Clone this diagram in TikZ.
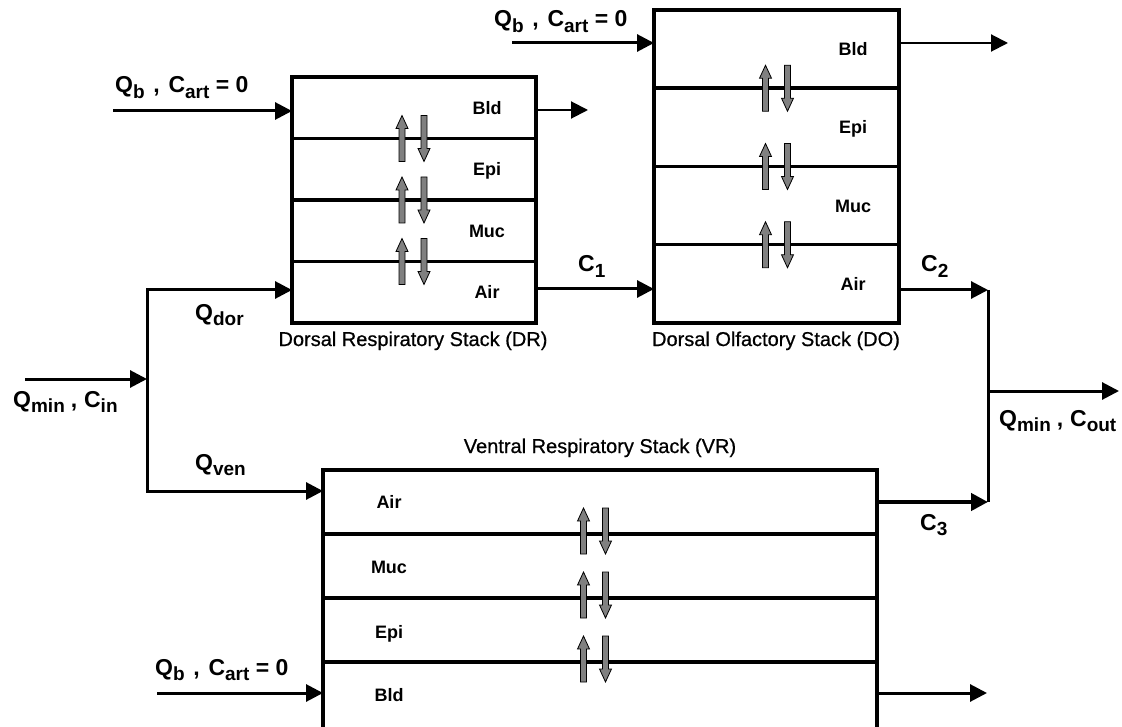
\documentclass[tikz,border=0pt]{standalone}
\usepackage{fontspec}
\setmainfont{Liberation Sans}
\newfontfamily\capfont[FakeBold=0.7]{Liberation Sans}
\usetikzlibrary{arrows.meta}
\newcommand\sbs[1]{\raisebox{-0.24em}{\fontsize{19}{20}\selectfont #1}}
\newcommand\cm{\hspace{0.38em},\hspace{0.38em}}
\newcommand\cmn{\hspace{0.26em},\hspace{0.3em}}
\tikzset{
  stacklayer/.style={draw, rectangle, line width=3.5pt, inner sep=0pt, outer sep=0pt},
  lbl/.style={font=\bfseries\fontsize{18}{20}\selectfont, inner sep=0pt, anchor=base},
  flow/.style={font=\bfseries\fontsize{23}{26}\selectfont, inner sep=0pt, anchor=base west},
  stackcap/.style={font=\capfont\fontsize{20}{24}\selectfont, inner sep=0pt, anchor=base},
  arrowtip/.style={-{Triangle[length=17pt,width=17pt]}},
  conn/.style={line width=3pt, arrowtip},
  thinconn/.style={line width=2pt, arrowtip},
  medconn/.style={line width=3pt, arrowtip},
  thickconn/.style={line width=4.5pt, arrowtip},
  swaparrows/.pic={
    \filldraw[fill=black!50, draw=black, line width=0.8pt]
      (-14,23) -- (-14,-10) -- (-17,-10) -- (-11,-23) -- (-5,-10) -- (-8,-10) -- (-8,23) -- cycle;
    \filldraw[fill=black!50, draw=black, line width=0.8pt]
      (8,-23) -- (8,10) -- (5,10) -- (11,23) -- (17,10) -- (14,10) -- (14,-23) -- cycle;
  }
}
\begin{document}
\begin{tikzpicture}[x=1pt,y=-1pt]
\useasboundingbox (0,0) rectangle (1122,727);
% Dorsal respiratory stack
\node[stacklayer, minimum width=244pt, minimum height=61.5pt] (drbld) at (414,107.75) {};
\node[stacklayer, minimum width=244pt, minimum height=61.5pt] (drepi) at (414,169.25) {};
\node[stacklayer, minimum width=244pt, minimum height=61.5pt] (drmuc) at (414,230.75) {};
\node[stacklayer, minimum width=244pt, minimum height=61.5pt] (drair) at (414,292.25) {};
\node[lbl] (drbldt) at (487,114.25) {Bld};
\node[lbl] (drepit) at (487,175.75) {Epi};
\node[lbl] (drmuct) at (487,237.25) {Muc};
\node[lbl] (drairt) at (487,298.75) {Air};
\node[stackcap] (drcap) at (413,346) {Dorsal Respiratory Stack (DR)};
% Dorsal olfactory stack
\node[stacklayer, minimum width=245pt, minimum height=78.25pt] (dobld) at (776.5,49.125) {};
\node[stacklayer, minimum width=245pt, minimum height=78.25pt] (doepi) at (776.5,127.375) {};
\node[stacklayer, minimum width=245pt, minimum height=78.25pt] (domuc) at (776.5,205.625) {};
\node[stacklayer, minimum width=245pt, minimum height=78.25pt] (doair) at (776.5,283.875) {};
\node[lbl] (dobldt) at (853,55.6) {Bld};
\node[lbl] (doepit) at (853,133.9) {Epi};
\node[lbl] (domuct) at (853,212.1) {Muc};
\node[lbl] (doairt) at (853,290.4) {Air};
\node[stackcap] (docap) at (776,346) {Dorsal Olfactory Stack (DO)};
% Ventral respiratory stack
\node[stacklayer, minimum width=554pt, minimum height=64pt] (vrair) at (600,502) {};
\node[stacklayer, minimum width=554pt, minimum height=64pt] (vrmuc) at (600,566) {};
\node[stacklayer, minimum width=554pt, minimum height=64pt] (vrepi) at (600,630) {};
\node[stacklayer, minimum width=554pt, minimum height=80pt] (vrbld) at (600,702) {};
\node[lbl] (vrairt) at (389,508.5) {Air};
\node[lbl] (vrmuct) at (389,573.5) {Muc};
\node[lbl] (vrepit) at (389,638.5) {Epi};
\node[lbl] (vrbldt) at (389,701) {Bld};
\node[stackcap] (vrcap) at (600,453) {Ventral Respiratory Stack (VR)};
% exchange arrows
\pic at (413,138.5) {swaparrows};
\pic at (413,200) {swaparrows};
\pic at (413,261.5) {swaparrows};
\pic at (776.5,88.25) {swaparrows};
\pic at (776.5,166.5) {swaparrows};
\pic at (776.5,244.75) {swaparrows};
\pic at (594.5,531) {swaparrows};
\pic at (594.5,595) {swaparrows};
\pic at (594.5,659) {swaparrows};
% flow labels
\node[flow] (lqbdr) at (115,93) {Q\sbs{b}\cm C\sbs{art} = 0};
\node[flow] (lqbdo) at (494,27) {Q\sbs{b}\cm C\sbs{art} = 0};
\node[flow] (lqbvr) at (155,675) {Q\sbs{b}\cm C\sbs{art} = 0};
\node[flow] (lin) at (13,407) {Q\sbs{min}\cmn C\sbs{in}};
\node[flow] (ldor) at (195,320) {Q\sbs{dor}};
\node[flow] (lven) at (195,470) {Q\sbs{ven}};
\node[flow] (lc1) at (578,272) {C\sbs{1}};
\node[flow] (lc2) at (921,272) {C\sbs{2}};
\node[flow] (lc3) at (920,530) {C\sbs{3}};
\node[flow] (lout) at (999,426) {Q\sbs{min}\cmn C\sbs{out}};
% connectors
\coordinate (qbdr) at (113,111);
\draw[conn] (qbdr) -- (qbdr -| drbld.west);
\coordinate (drout) at (588,110);
\draw[thinconn] (drout -| drbld.east) -- (drout);
\coordinate (qbdo) at (512,43);
\draw[conn] (qbdo) -- (qbdo -| dobld.west);
\coordinate (doout) at (1008,43);
\draw[thinconn] (doout -| dobld.east) -- (doout);
\coordinate (qbvr) at (157,693);
\draw[conn] (qbvr) -- (qbvr -| vrbld.west);
\coordinate (vrout) at (987,693);
\draw[medconn] (vrout -| vrbld.east) -- (vrout);
\coordinate (in) at (25,379);
\coordinate (jin) at (147,379);
\draw[conn] (in) -- (jin);
\coordinate (jdor) at (147,290);
\coordinate (jven) at (147,491);
\draw[line width=3pt, line join=miter, {Triangle[length=17pt,width=17pt]}-{Triangle[length=17pt,width=17pt]}]
  (jdor -| drair.west) -- (jdor) -- (jven) -- (jven -| vrair.west);
\coordinate (c1) at (595,289);
\draw[conn] (c1 -| drair.east) -- (c1 -| doair.west);
\coordinate (jr1) at (988,290);
\coordinate (jr2) at (988,502);
\coordinate (jr) at (988,391);
\coordinate (out) at (1119,391);
\draw[conn] (jr1 -| doair.east) -- (jr1);
\draw[thickconn] (jr2 -| vrair.east) -- (jr2);
\draw[line width=3pt] (jr1) -- (jr2);
\draw[conn] (jr) -- (out);
\end{tikzpicture}
\end{document}
